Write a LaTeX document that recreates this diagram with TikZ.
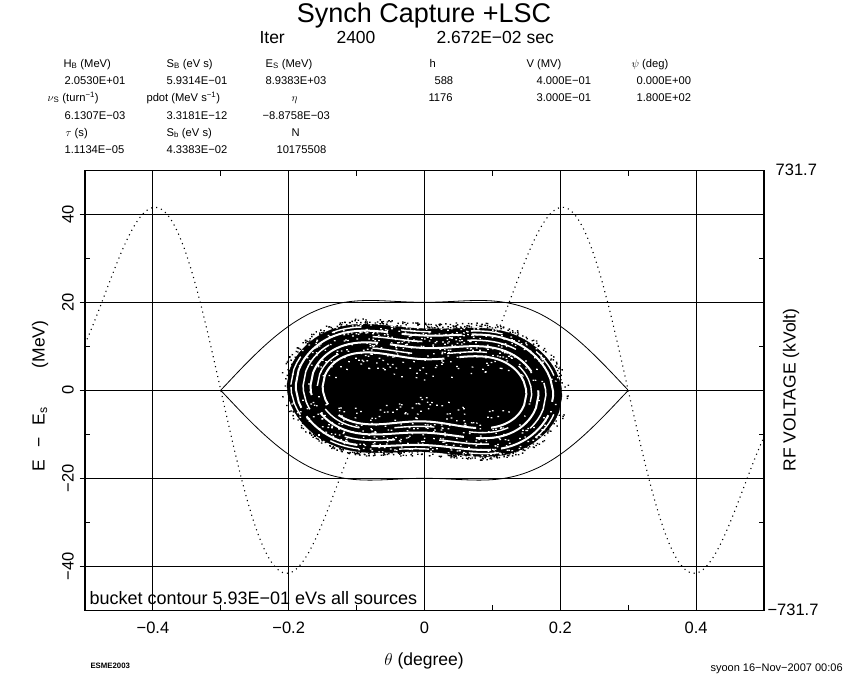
\documentclass[tikz,border=0pt]{standalone}
\usepackage{fontspec}
\setmainfont{Liberation Sans}
\usetikzlibrary{calc}

\tikzset{
  plotframe/.style={line width=1.1pt}, % box round the plot
  gridline/.style={line width=1.1pt},
  minortick/.style={line width=1.1pt},
  rfcurve/.style={line width=1.1pt, dash pattern=on 1.1pt off 4pt},
  bucket/.style={line width=0.8pt},
  filgap/.style={white, line width=2pt},
  titletext/.style={font=\fontsize{27}{28}\selectfont, anchor=base},
  subtext/.style={font=\fontsize{17.5}{18}\selectfont, anchor=base west},
  partext/.style={font=\fontsize{11.2}{12}\selectfont, anchor=base west},
  ticklabel/.style={font=\fontsize{16.5}{17}\selectfont},
  axislabel/.style={font=\fontsize{17.5}{18}\selectfont},
  stamp/.style={font=\fontsize{11}{12}\selectfont, anchor=base west}
}

% closed contour of the dual harmonic bucket at level #1
\newcommand{\ring}[2]{%
  \pgfmathsetmacro{\ringc}{max(-1,(4-sqrt(16+0.12*(700-#1)))/6)}%
  \pgfmathsetmacro{\ringa}{acos(\ringc)/600}%
  \draw[#2] plot[domain=-\ringa:\ringa, samples=91] (\x, {0.7071*sqrt(max(0,gg(\x)-#1))})
    -- plot[domain=\ringa:-\ringa, samples=91] (\x, {-0.7071*sqrt(max(0,gg(\x)-#1))}) -- cycle;%
}

\begin{document}
\begin{tikzpicture}[x=1pt, y=-1pt,
    declare function={gg(\t)=550+400*cos(600*\t)-150*cos(1200*\t);}]

    \fill[white] (0,0) rectangle (850,680);
    \useasboundingbox (0,0) rectangle (850,680);

    % Title
    \node[titletext] (title) at (424,22) {Synch Capture +LSC};
    \node[subtext] (iter) at (256,43) {Iter};
    \node[subtext] (iterno) at (333,43) {2400};
    \node[subtext] (time) at (433,43) {2.672E−02 sec};

    % Parameters
    \node[partext] (hb) at (60,67) {H\textsubscript{B} (MeV)};
    \node[partext] (sb) at (163,67) {S\textsubscript{B} (eV s)};
    \node[partext] (es) at (262,67) {E\textsubscript{S} (MeV)};
    \node[partext] (h) at (426,67) {h};
    \node[partext] (v) at (523,67) {V (MV)};
    \node[partext] (psi) at (628,67) {$\psi$ (deg)};
    \node[partext] (hbval) at (61,84) {2.0530E+01};
    \node[partext] (sbval) at (163,84) {5.9314E−01};
    \node[partext] (esval) at (262,84) {8.9383E+03};
    \node[partext] (hone) at (431,84) {588};
    \node[partext] (vone) at (533,84) {4.000E−01};
    \node[partext] (psione) at (633,84) {0.000E+00};
    \node[partext] (nus) at (44,101) {$\nu$\textsubscript{S} (turn\textsuperscript{−1})};
    \node[partext] (pdot) at (143,101) {pdot (MeV s\textsuperscript{−1})};
    \node[partext] (eta) at (288,101) {$\eta$};
    \node[partext] (htwo) at (425,101) {1176};
    \node[partext] (vtwo) at (533,101) {3.000E−01};
    \node[partext] (psitwo) at (633,101) {1.800E+02};
    \node[partext] (nusval) at (61,119) {6.1307E−03};
    \node[partext] (pdotval) at (163,119) {3.3181E−12};
    \node[partext] (etaval) at (259,119) {−8.8758E−03};
    \node[partext] (tau) at (62,136) {$\tau$ (s)};
    \node[partext] (sbb) at (163,136) {S\textsubscript{b} (eV s)};
    \node[partext] (n) at (288,136) {N};
    \node[partext] (tauval) at (61,153) {1.1134E−05};
    \node[partext] (sbbval) at (163,153) {4.3383E−02};
    \node[partext] (nval) at (273,153) {10175508};

    % Phase space plot
    \begin{scope}[shift={(424.5,390.3)}, x=679pt, y=4.4pt]
        % grid and ticks
        \foreach \t in {-0.4,-0.2,0,0.2,0.4}
            \draw[gridline] (\t,-50) -- (\t,50);
        \foreach \e in {-40,-20,0,20,40}
            \draw[gridline] (-0.508,\e) -- (0.5,\e);
        \foreach \t in {-0.3,-0.1,0.1,0.3} {
            \draw[minortick] (\t,-50) -- ++(0,1.2);
            \draw[minortick] (\t,50) -- ++(0,-1.2);
        }
        \foreach \e in {-30,-10,10,30} {
            \draw[minortick] (-0.5,\e) -- ++(0.008,0);
            \draw[minortick] (0.5,\e) -- ++(-0.008,0);
        }

        % RF voltage
        \draw[rfcurve] plot[domain=-0.5:0.5, samples=301] (\x, {30.07*sin(600*\x)-17.9*sin(1200*\x)});

        % Bucket contour
        \ring{0}{bucket}

        % Particles
        \begin{scope}[yslant=-0.035]
            \ring{409}{fill=black}
            \ring{445}{filgap, line width=1.4pt, dash pattern=on 30pt off 40pt}
            \ring{490}{filgap, dash pattern=on 120pt off 14pt on 60pt off 10pt}
            \ring{555}{filgap, line width=1.5pt, dash pattern=on 50pt off 45pt}
            \ring{615}{filgap, dash pattern=on 90pt off 12pt on 150pt off 20pt}
            \ring{665}{filgap, line width=1.4pt, dash pattern=on 40pt off 35pt}
            \ring{700}{filgap, dash pattern=on 140pt off 15pt}
            \ring{736}{fill=black}
            \pgfmathsetseed{2400}
            \foreach \i in {1,...,900} {
                \pgfmathsetmacro{\st}{0.4*rnd-0.2}
                \pgfmathsetmacro{\sh}{409+390*rnd}
                \pgfmathsetmacro{\sg}{gg(\st)-\sh}
                \ifdim\sg pt>0pt
                    \pgfmathsetmacro{\se}{(2*round(rnd)-1)*0.7071*sqrt(\sg)}
                    \fill[white] (\st,\se) rectangle ++(0.0025,0.28);
                \fi
            }
            \foreach \i in {1,...,450} {
                \pgfmathsetmacro{\st}{0.44*rnd-0.22}
                \pgfmathsetmacro{\sh}{345+64*rnd}
                \pgfmathsetmacro{\sg}{gg(\st)-\sh}
                \ifdim\sg pt>0pt
                    \pgfmathsetmacro{\se}{(2*round(rnd)-1)*0.7071*sqrt(\sg)}
                    \fill[black] (\st,\se) rectangle ++(0.0022,0.3);
                \fi
            }
        \end{scope}

        \draw[plotframe] (-0.5,-50) rectangle (0.5,50);

        % Tick labels
        \foreach \t/\l [count=\i] in {-0.4/−0.4, -0.2/−0.2, 0/0, 0.2/0.2, 0.4/0.4}
            \node[ticklabel] (xtick\i) at (\t,-53.9) {\l};
        \foreach \e/\l [count=\i] in {-40/−40, -20/−20, 0/0, 20/20, 40/40}
            \node[ticklabel, rotate=90] (ytick\i) at (-0.525,\e) {\l};
        \node[ticklabel, anchor=west] (vtop) at (0.512,50) {731.7};
        \node[ticklabel, anchor=west] (vbot) at (0.5,-50) {−731.7};
    \end{scope}

    % Labels
    \node[axislabel, anchor=base west, font=\fontsize{18}{18}\selectfont] (contour) at (86,604) {bucket contour 5.93E−01 eVs all sources};
    \node[axislabel] (xlabel) at (424,661) {$\theta$ (degree)};
    \node[axislabel, rotate=90] (ylabel) at (40,396) {E\hspace{0.7em}−\hspace{0.7em}E\textsubscript{s}\hspace{2.2em}(MeV)};
    \node[axislabel, rotate=90] (rflabel) at (791,390) {RF VOLTAGE (kVolt)};
    \node[stamp, font=\bfseries\fontsize{7.8}{8}\selectfont] (esme) at (87,668) {ESME2003};
    \node[stamp] (user) at (707,671) {syoon 16−Nov−2007 00:06};
\end{tikzpicture}
\end{document}
